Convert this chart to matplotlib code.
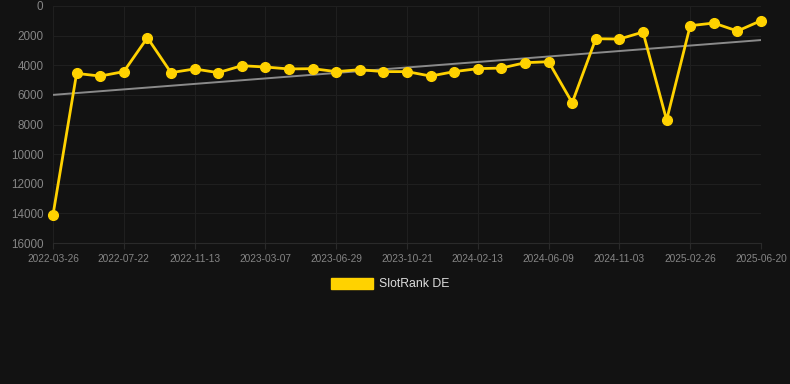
import matplotlib
matplotlib.use("Agg")
import matplotlib.pyplot as plt
from matplotlib.patches import Patch

plt.rcParams["font.family"] = ["Liberation Sans", "DejaVu Sans"]

# Data (categorical x positions, one point per observation)
rank_values = [14100, 4550, 4730, 4430, 2140, 4500, 4250, 4500, 4030, 4120,
               4250, 4230, 4430, 4300, 4430, 4430, 4730, 4430, 4230, 4190,
               3830, 3760, 6530, 2210, 2230, 1760, 7700, 1330, 1150, 1690, 990]
tick_labels = ["2022-03-26", "2022-07-22", "2022-11-13", "2023-03-07", "2023-06-29",
               "2023-10-21", "2024-02-13", "2024-06-09", "2024-11-03", "2025-02-26",
               "2025-06-20"]
trend_values = [6000, 2300]  # trend line at first and last point
series_name = "SlotRank DE"

bg = "#121212"
fig = plt.figure(figsize=(7.9, 3.84), dpi=100, facecolor=bg)
ax = fig.add_axes([53/790, (384-243)/384, (761-53)/790, (243-6)/384], facecolor=bg)

x = list(range(len(rank_values)))
ax.plot([x[0], x[-1]], trend_values, color="#8a8a8a", lw=1.4, zorder=2)
ax.plot(x, rank_values, color="#FFD200", lw=2.0, marker="o", markersize=7.0,
        zorder=3, clip_on=False)

ax.set_xlim(0, len(rank_values) - 1)
ax.set_ylim(16000, 0)
ax.set_yticks(range(0, 16001, 2000))
ax.set_xticks(list(range(0, len(rank_values), 3)))
ax.set_xticklabels(tick_labels)

ax.grid(True, color="#1f1f1f", lw=0.8, zorder=0)
for s in ["top", "right", "left"]:
    ax.spines[s].set_visible(False)
ax.spines["bottom"].set_color("#2a2a2a")
ax.tick_params(axis="y", length=0, pad=7, labelsize=8.4, labelcolor="#858585")
ax.tick_params(axis="x", length=4, color="#2a2a2a", pad=4, labelsize=7.3, labelcolor="#858585")

handles = [Patch(facecolor="#FFD200", edgecolor="#FFD200", label=series_name)]
fig.legend(handles=handles, loc="center", bbox_to_anchor=(390/790, 1 - 284/384),
           frameon=False, fontsize=8.8, labelcolor="#dddddd", handlelength=3.4,
           handleheight=1.0, handletextpad=0.5)

fig.savefig("out.png", dpi=100, facecolor=bg)
